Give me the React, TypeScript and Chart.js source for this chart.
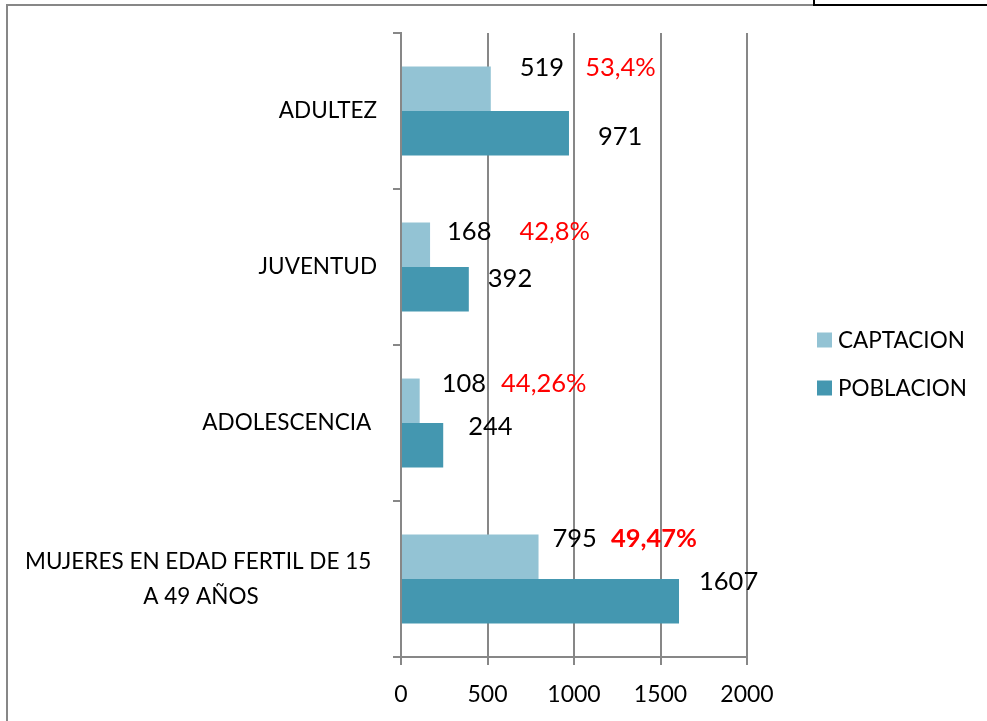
import React, { useEffect, useRef } from 'react';
import { Chart, registerables } from 'chart.js';

Chart.register(...registerables);

// ---- data ----
const categories: string[][] = [
  ['ADULTEZ'],
  ['JUVENTUD'],
  ['ADOLESCENCIA '],
  ['MUJERES EN EDAD FERTIL DE 15 ', 'A 49 AÑOS'],
];
const seriesNames = ['CAPTACION', 'POBLACION'];
const captacion = [519, 168, 108, 795];
const poblacion = [971, 392, 244, 1607];
const percentLabels = ['53,4%', '42,8%', '44,26%', '49,47%'];
const xTicks = [0, 500, 1000, 1500, 2000];

// ---- style ----
const COLORS = ['#93C3D4', '#4497B0'];
const AXIS = '#878787';
const FONT = 'Lato, "Open Sans", sans-serif';
const valueOffsets = [
  { dx: [29, 17, 22, 14], dy: [-21, -13, -17, -18] },
  { dx: [29, 19, 25, 20], dy: [4, -10, -18, -19] },
];
const pctGap = [21, 28, 15, 14];
const pctBold = [false, false, false, true];

const labelPlugin = {
  id: 'customLabels',
  afterDatasetsDraw(chart: any) {
    const ctx = chart.ctx;
    ctx.save();
    // value labels and percents
    ctx.textBaseline = 'middle';
    ctx.textAlign = 'left';
    [0, 1].forEach((d) => {
      const meta = chart.getDatasetMeta(d);
      const ds = chart.data.datasets[d];
      meta.data.forEach((el: any, i: number) => {
        const txt = String(ds.data[i]);
        ctx.font = `25.5px ${FONT}`;
        ctx.fillStyle = '#000';
        const x = el.x + valueOffsets[d].dx[i];
        const y = el.y + valueOffsets[d].dy[i];
        ctx.fillText(txt, x, y);
        if (d === 0) {
          const w = ctx.measureText(txt).width;
          ctx.font = `${pctBold[i] ? 'bold ' : ''}25.5px ${FONT}`;
          ctx.fillStyle = '#FF0000';
          ctx.fillText(percentLabels[i], x + w + pctGap[i], y);
        }
      });
    });
    // category labels (each box right-aligned to the axis, lines centred in it)
    const ys = chart.scales.y;
    ctx.font = `22.5px ${FONT}`;
    ctx.fillStyle = '#000';
    ctx.textAlign = 'left';
    const right = ys.right - 24;
    const lh = 35;
    categories.forEach((lines, i) => {
      const yc = ys.getPixelForValue(i);
      const widest = Math.max(...lines.map((l) => ctx.measureText(l).width));
      const cx = right - widest / 2;
      const y0 = yc - ((lines.length - 1) * lh) / 2;
      lines.forEach((l, k) => {
        const lw = ctx.measureText(l).width;
        ctx.fillText(l.trimEnd(), cx - lw / 2, y0 + k * lh);
      });
    });
    // legend
    ctx.textAlign = 'left';
    ctx.font = `22.5px ${FONT}`;
    const lx = 817;
    const legendY = [340, 388];
    seriesNames.forEach((name, i) => {
      ctx.fillStyle = COLORS[i];
      ctx.fillRect(lx, legendY[i] - 7.5, 15, 15);
      ctx.fillStyle = '#000';
      ctx.fillText(name, lx + 21, legendY[i] + 1);
    });
    ctx.restore();
  },
};

export default function App() {
  const ref = useRef<HTMLCanvasElement | null>(null);
  useEffect(() => {
    if (!ref.current) return;
    const chart = new Chart(ref.current, {
      type: 'bar',
      data: {
        labels: categories.map((c) => c.join(' ')),
        datasets: [
          {
            label: seriesNames[0],
            data: captacion,
            backgroundColor: COLORS[0],
            borderWidth: 0,
            categoryPercentage: 0.57,
            barPercentage: 1,
          },
          {
            label: seriesNames[1],
            data: poblacion,
            backgroundColor: COLORS[1],
            borderWidth: 0,
            categoryPercentage: 0.57,
            barPercentage: 1,
          },
        ],
      },
      options: {
        indexAxis: 'y',
        responsive: false,
        animation: false,
        layout: { padding: { top: 33, right: 240, bottom: 0, left: 0 } },
        plugins: { legend: { display: false }, tooltip: { enabled: false } },
        scales: {
          x: {
            min: 0,
            max: 2000,
            afterBuildTicks: (s: any) => {
              s.ticks = xTicks.map((v) => ({ value: v }));
            },
            grid: { color: AXIS, lineWidth: 2, tickLength: 8, drawTicks: true },
            border: { display: true, color: AXIS, width: 2 },
            ticks: {
              font: { family: FONT, size: 23 },
              color: '#000',
              padding: 16,
              maxRotation: 0,
              autoSkip: false,
              callback: (v: any) => String(v),
            },
            afterFit: (s: any) => {
              s.height = 64;
            },
          },
          y: {
            offset: true,
            grid: {
              display: true,
              drawOnChartArea: false,
              color: AXIS,
              lineWidth: 2,
              tickLength: 8,
              offset: true,
            },
            border: { display: true, color: AXIS, width: 2 },
            ticks: { display: false },
            afterFit: (s: any) => {
              s.width = 401;
            },
          },
        },
      } as any,
      plugins: [labelPlugin],
    });
    return () => chart.destroy();
  }, []);

  return (
    <div style={{ position: 'fixed', left: 0, top: 0, width: 987, height: 721, background: '#fff', overflow: 'hidden' }}>
      <div
        style={{
          position: 'absolute',
          left: 6,
          top: 4,
          width: 900,
          height: 800,
          borderLeft: `2px solid ${AXIS}`,
          borderTop: `2px solid ${AXIS}`,
        }}
      />
      <div
        style={{
          position: 'absolute',
          left: 813,
          top: -10,
          width: 200,
          height: 12,
          border: '2px solid #000',
          background: '#fff',
        }}
      />
      <canvas
        ref={ref}
        width={987}
        height={721}
        style={{ position: 'absolute', left: 0, top: 0, display: 'block' }}
      />
    </div>
  );
}
